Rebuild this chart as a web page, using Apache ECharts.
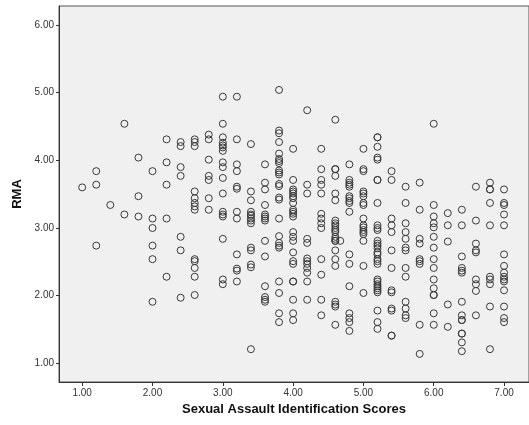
<!DOCTYPE html>
<html>
<head>
<meta charset="utf-8">
<script src="https://cdn.jsdelivr.net/npm/echarts@6/dist/echarts.min.js"></script>
<style>html,body{margin:0;padding:0;background:#fff;}#c{width:529px;height:425px;}</style>
</head>
<body>
<div id="c"></div>
<script>
var xTitle = 'Sexual Assault Identification Scores';
var yTitle = 'RMA';
var xTicks = [1, 2, 3, 4, 5, 6, 7];
var yTicks = [1, 2, 3, 4, 5, 6];
var sasColumns = [1.0, 1.2, 1.4, 1.6, 1.8, 2.0, 2.2, 2.4, 2.6, 2.8, 3.0, 3.2, 3.4, 3.6, 3.8, 4.0, 4.2, 4.4, 4.6, 4.67, 4.8, 5.0, 5.2, 5.4, 5.6, 5.8, 6.0, 6.2, 6.4, 6.6, 6.8, 7.0];
var rmaByColumn = [
  [3.60],
  [3.84, 3.64, 2.74],
  [3.34],
  [4.54, 3.20],
  [4.04, 3.47, 3.17],
  [3.84, 3.14, 3.00, 2.74, 2.54, 1.91],
  [4.31, 3.97, 3.64, 3.14, 2.28],
  [4.27, 4.21, 3.90, 3.77, 2.87, 2.67, 1.97],
  [4.31, 4.27, 4.21, 3.54, 3.44, 3.37, 3.32, 3.27, 2.54, 2.51, 2.41, 2.28, 2.01],
  [4.38, 4.31, 4.01, 3.77, 3.71, 3.44, 3.27],
  [4.94, 4.54, 4.34, 4.26, 4.22, 4.19, 4.14, 3.97, 3.90, 3.74, 3.51, 3.24, 3.20, 3.17, 2.84, 2.24, 2.17],
  [4.94, 4.31, 3.94, 3.84, 3.61, 3.58, 3.24, 3.14, 2.61, 2.40, 2.37, 2.21],
  [4.24, 3.54, 3.41, 3.24, 3.20, 3.18, 3.14, 3.11, 3.07, 2.71, 2.67, 2.46, 2.42, 1.21],
  [3.94, 3.67, 3.57, 3.34, 3.20, 3.17, 3.14, 3.11, 2.81, 2.58, 2.14, 1.98, 1.94, 1.91],
  [5.04, 4.44, 4.40, 4.27, 4.10, 4.02, 3.99, 3.96, 3.85, 3.82, 3.79, 3.65, 3.62, 3.45, 3.42, 3.14, 2.88, 2.78, 2.74, 2.71, 2.21, 2.04, 1.74, 1.61],
  [4.17, 3.71, 3.57, 3.54, 3.51, 3.47, 3.44, 3.37, 3.27, 3.24, 3.21, 3.17, 2.94, 2.87, 2.81, 2.64, 2.51, 2.47, 2.21, 2.21, 1.94, 1.74, 1.64],
  [4.74, 3.64, 3.51, 2.84, 2.78, 2.55, 2.51, 2.47, 2.41, 2.34, 2.21, 1.94],
  [4.17, 3.87, 3.71, 3.64, 3.51, 3.21, 3.14, 3.07, 3.00, 2.54, 2.31, 1.94, 1.71],
  [4.60, 3.87, 3.87, 3.77, 3.51, 3.41, 3.11, 3.07, 3.04, 3.00, 2.97, 2.94, 2.87, 2.84, 2.81, 2.81, 2.67, 2.54, 2.44, 1.91, 1.87, 1.84, 1.57],
  [2.81],
  [3.94, 3.71, 3.67, 3.64, 3.61, 3.47, 3.44, 3.40, 3.37, 3.24, 2.61, 2.47, 2.14, 1.74, 1.67, 1.61, 1.48],
  [4.17, 3.87, 3.84, 3.54, 3.51, 3.47, 3.37, 3.34, 3.14, 3.04, 3.01, 2.97, 2.94, 2.91, 2.81, 2.44, 2.04],
  [4.34, 4.34, 4.20, 4.04, 4.01, 3.71, 3.71, 3.37, 3.04, 3.00, 2.97, 2.81, 2.77, 2.74, 2.70, 2.64, 2.61, 2.54, 2.51, 2.47, 2.24, 2.21, 2.17, 2.14, 2.11, 2.08, 2.05, 1.78, 1.61, 1.51],
  [3.84, 3.71, 3.14, 3.04, 2.94, 2.67, 2.41, 2.08, 2.05, 1.81, 1.78, 1.41, 1.41],
  [3.61, 3.37, 3.07, 2.94, 2.84, 2.71, 2.67, 2.41, 2.28, 1.91, 1.81, 1.71, 1.67],
  [3.67, 3.27, 2.84, 2.77, 2.54, 2.51, 2.47, 1.57, 1.14],
  [4.54, 3.34, 3.17, 3.07, 3.01, 2.87, 2.71, 2.54, 2.41, 2.24, 2.11, 2.01, 2.01, 1.74, 1.57],
  [3.22, 3.04, 2.80, 1.87, 1.54],
  [3.27, 3.04, 2.58, 2.41, 2.37, 2.34, 1.91, 1.71, 1.64, 1.64, 1.44, 1.44, 1.31, 1.18],
  [3.61, 3.11, 2.77, 2.67, 2.64, 2.24, 2.17, 2.07, 1.71],
  [3.67, 3.57, 3.57, 3.37, 3.04, 2.28, 2.24, 2.17, 1.84, 1.21],
  [3.57, 3.37, 3.34, 3.20, 3.04, 2.61, 2.44, 2.34, 2.28, 2.24, 2.21, 2.08, 1.84, 1.67, 1.61]
];

var points = [];
sasColumns.forEach(function (x, i) {
  rmaByColumn[i].forEach(function (y) { points.push([x, y]); });
});

var chart = echarts.init(document.getElementById('c'), null, {renderer: 'canvas'});
var labelFont = {fontFamily: 'Liberation Sans', fontSize: 10, color: '#333'};
chart.setOption({
  animation: false,
  backgroundColor: '#ffffff',
  grid: {
    left: 59, top: 6, width: 474, height: 376,
    show: true, backgroundColor: '#f0f0f0', borderColor: '#555', borderWidth: 1
  },
  xAxis: {
    type: 'value', min: 0.67, max: 7.355,
    name: xTitle, nameLocation: 'middle', nameGap: 20,
    nameTextStyle: {fontFamily: 'Liberation Sans', fontWeight: 'bold', fontSize: 13, color: '#111'},
    axisLine: {show: true, onZero: false, lineStyle: {color: '#333', width: 1}},
    axisTick: {show: true, length: 4, customValues: xTicks, lineStyle: {color: '#333'}},
    axisLabel: Object.assign({customValues: xTicks, margin: 6, formatter: function (v) { return v.toFixed(2); }}, labelFont),
    splitLine: {show: false}
  },
  yAxis: {
    type: 'value', min: 0.725, max: 6.28,
    name: yTitle, nameLocation: 'middle', nameGap: 33, nameRotate: 90,
    nameTextStyle: {fontFamily: 'Liberation Sans', fontWeight: 'bold', fontSize: 13, color: '#111'},
    axisLine: {show: true, onZero: false, lineStyle: {color: '#333', width: 1}},
    axisTick: {show: true, length: 3, customValues: yTicks, lineStyle: {color: '#333'}},
    axisLabel: Object.assign({customValues: yTicks, margin: 5, formatter: function (v) { return v.toFixed(2); }}, labelFont),
    splitLine: {show: false}
  },
  series: [{
    type: 'scatter',
    data: points,
    symbol: 'circle',
    symbolSize: 7,
    itemStyle: {color: 'rgba(0,0,0,0)', borderColor: '#3a3a3a', borderWidth: 1, opacity: 1}
  }]
});
</script>
</body>
</html>
